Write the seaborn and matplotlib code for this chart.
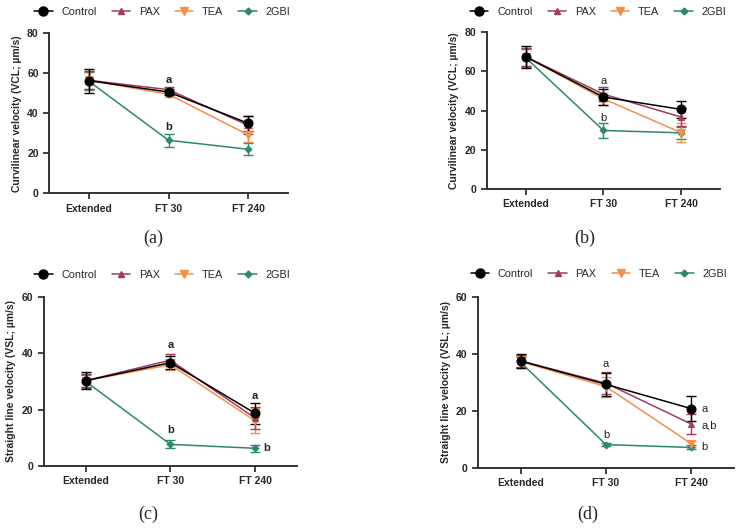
import numpy as np
import pandas as pd
import matplotlib
matplotlib.use('Agg')
import matplotlib.pyplot as plt
import seaborn as sns
from matplotlib.lines import Line2D

# data ---------------------------------------------------------------------------------------------
stages = ['Extended', 'FT 30', 'FT 240']
groups = ['Control', 'PAX', 'TEA', '2GBI']

# (a) VCL
vcl_a = {'Control': [56.3, 50.6, 35.0], 'PAX': [56.5, 51.8, 34.0],
         'TEA': [56.5, 49.5, 29.2], '2GBI': [56.0, 26.5, 22.0]}
vcl_a_err = {'Control': [6.0, 1.5, 3.8], 'PAX': [4.5, 1.5, 4.5],
             'TEA': [4.5, 1.5, 3.5], '2GBI': [4.5, 3.3, 3.0]}
# (b) VCL
vcl_b = {'Control': [67.5, 46.9, 40.6], 'PAX': [67.5, 48.4, 36.7],
         'TEA': [67.5, 46.0, 28.7], '2GBI': [67.0, 29.8, 28.6]}
vcl_b_err = {'Control': [5.5, 4.0, 4.2], 'PAX': [4.5, 3.5, 4.5],
             'TEA': [4.5, 3.0, 5.0], '2GBI': [4.5, 3.6, 3.0]}
# (c) VSL
vsl_c = {'Control': [30.3, 36.7, 18.7], 'PAX': [30.3, 37.6, 17.0],
         'TEA': [30.3, 36.0, 16.0], '2GBI': [30.0, 7.6, 6.2]}
vsl_c_err = {'Control': [2.9, 2.2, 3.7], 'PAX': [2.3, 2.2, 4.0],
             'TEA': [2.3, 2.0, 4.5], '2GBI': [2.3, 1.4, 1.3]}
# (d) VSL
vsl_d = {'Control': [37.5, 29.3, 20.8], 'PAX': [37.5, 29.7, 15.4],
         'TEA': [37.3, 28.5, 8.5], '2GBI': [37.0, 8.2, 7.2]}
vsl_d_err = {'Control': [2.5, 4.0, 4.5], 'PAX': [2.0, 3.8, 3.6],
             'TEA': [2.0, 3.5, 1.0], '2GBI': [2.0, 0.5, 0.7]}

colors = {'Control': '#000000', 'PAX': '#A23A62', 'TEA': '#F5904A', '2GBI': '#2A8A6A'}
markers = {'Control': 'o', 'PAX': '^', 'TEA': 'v', '2GBI': 'D'}
msizes = {'Control': 6.5, 'PAX': 5, 'TEA': 5.5, '2GBI': 3.5}

# style ----------------------------------------------------------------------------------------------
sns.set_style('ticks')
plt.rcParams['font.family'] = ['Liberation Sans', 'DejaVu Sans']

fig = plt.figure(figsize=(7.44, 5.28), dpi=100)

panels = [
    dict(pos=[0.066, 0.634, 0.321, 0.303], vals=vcl_a, errs=vcl_a_err, ymax=80,
         ylabel='Curvilinear velocity (VCL; µm/s)', tag='(a)', tagxy=(0.206, 0.548),
         legy=0.977, legx=0.218, bold=True,
         notes=[(1, 56.6, 'a', 'center'), (1, 33.3, 'b', 'center')]),
    dict(pos=[0.6546, 0.6426, 0.313, 0.296], vals=vcl_b, errs=vcl_b_err, ymax=80,
         ylabel='Curvilinear velocity (VCL; µm/s)', tag='(b)', tagxy=(0.786, 0.548),
         legy=0.977, legx=0.804, bold=False,
         notes=[(1, 55.2, 'a', 'center'), (1, 36.0, 'b', 'center')]),
    dict(pos=[0.0585, 0.118, 0.341, 0.319], vals=vsl_c, errs=vsl_c_err, ymax=60,
         ylabel='Straight line velocity (VSL; µm/s)', tag='(c)', tagxy=(0.199, 0.025),
         legy=0.479, legx=0.218, bold=True,
         notes=[(1, 43.0, 'a', 'center'), (2, 25.0, 'a', 'center'),
                (1, 12.7, 'b', 'center'), (2.1, 6.3, 'b', 'left')]),
    dict(pos=[0.6425, 0.1136, 0.344, 0.3244], vals=vsl_d, errs=vsl_d_err, ymax=60,
         ylabel='Straight line velocity (VSL; µm/s)', tag='(d)', tagxy=(0.79, 0.025),
         legy=0.482, legx=0.805, bold=False,
         notes=[(1, 36.4, 'a', 'center'), (1, 11.7, 'b', 'center'),
                (2.12, 20.7, 'a', 'left'), (2.12, 15.0, 'a,b', 'left'),
                (2.12, 7.3, 'b', 'left')]),
]

x = np.arange(len(stages))

for p in panels:
    ax = fig.add_axes(p['pos'])
    rows = []
    for g in groups:
        for s, v in zip(stages, p['vals'][g]):
            rows.append({'stage': s, 'value': v, 'group': g})
    df = pd.DataFrame(rows)

    for i, g in enumerate(['2GBI', 'TEA', 'PAX', 'Control']):
        ax.errorbar(x, p['vals'][g], yerr=p['errs'][g], fmt='none', ecolor=colors[g],
                    elinewidth=1.0, capsize=3.5, capthick=1.0, zorder=2 + i * 0.1)
        sns.lineplot(data=df[df['group'] == g], x='stage', y='value', ax=ax,
                     color=colors[g], marker=markers[g], markersize=msizes[g],
                     markeredgecolor=colors[g], linewidth=1.1, sort=False,
                     errorbar=None, zorder=3 + i * 0.1)

    ax.set_xlim(-0.5, 2.5)
    ax.set_ylim(0, p['ymax'])
    ax.set_yticks(np.arange(0, p['ymax'] + 1, 20))
    ax.set_xticks(x)
    ax.set_xticklabels(stages)
    ax.set_xlabel('')
    ax.set_ylabel(p['ylabel'], fontsize=7.5, fontweight='bold')
    ax.tick_params(axis='both', labelsize=7.5, width=1.3, length=4, color='#333333')
    for lab in ax.get_xticklabels() + ax.get_yticklabels():
        lab.set_fontweight('bold')
    for side in ['left', 'bottom']:
        ax.spines[side].set_linewidth(1.4)
        ax.spines[side].set_color('#333333')
    sns.despine(ax=ax)

    for xi, yi, txt, ha in p['notes']:
        ax.text(xi, yi, txt, ha=ha, va='center', fontsize=8,
                fontweight='bold' if p['bold'] else 'normal', color='#222222')

    handles = [Line2D([], [], color=colors[g], marker=markers[g], markersize=msizes[g],
                      linewidth=1.1) for g in groups]
    fig.legend(handles, groups, loc='center', bbox_to_anchor=(p['legx'], p['legy']),
               ncol=4, frameon=False, fontsize=7.8, handlelength=1.7,
               columnspacing=1.4, handletextpad=0.8)

    fig.text(p['tagxy'][0], p['tagxy'][1], p['tag'], ha='center', va='center',
             fontsize=13, family='Liberation Serif')

fig.savefig('out.png', dpi=100)
